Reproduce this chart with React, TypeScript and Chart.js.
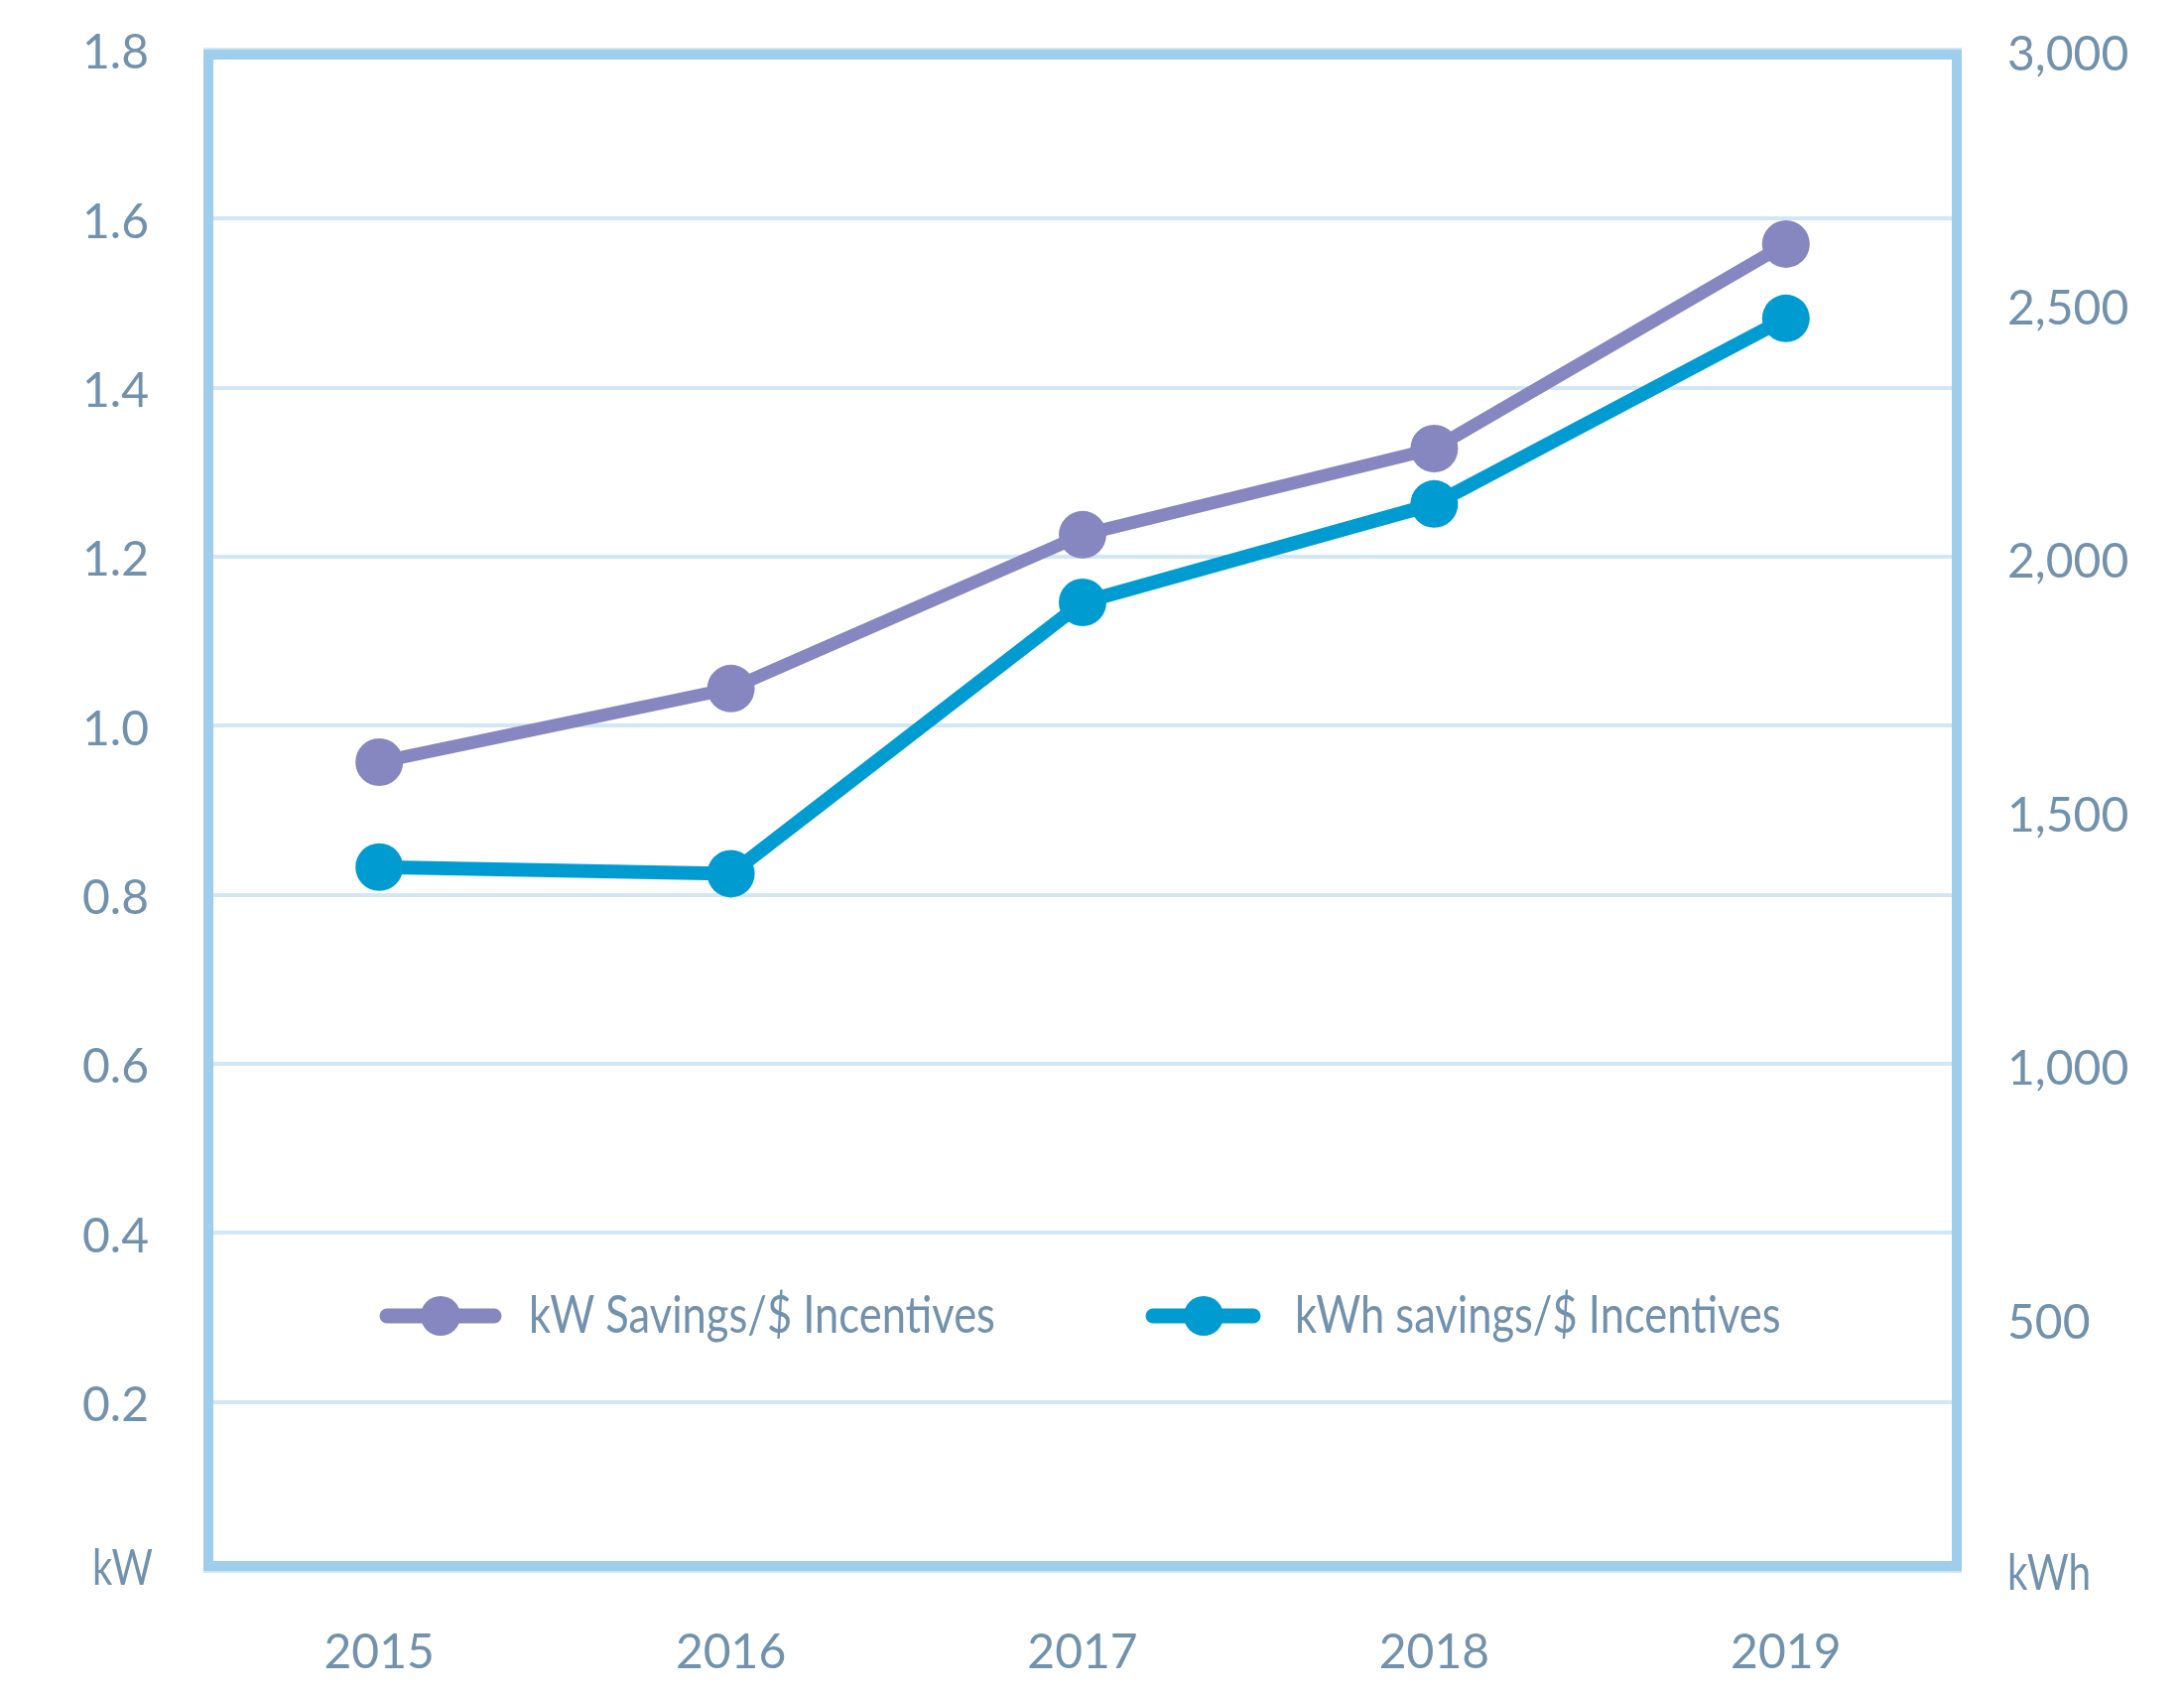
import { useEffect, useRef } from 'react';
import { Chart, registerables } from 'chart.js';

Chart.register(...registerables);

const categories = ['2015', '2016', '2017', '2018', '2019'];
const kwSavings = [0.957, 1.044, 1.226, 1.328, 1.57];
const kwhSavings = [1388, 1375, 1910, 2104, 2470];
const seriesLabels = ['kW Savings/$ Incentives', 'kWh savings/$ Incentives'];
const leftAxisUnit = 'kW';
const rightAxisUnit = 'kWh';

const FONT = "Lato, 'Open Sans', sans-serif";
const TEXT = '#7191AC';
const PURPLE = '#8686C0';
const BLUE = '#009CD1';
const FRAME = '#9ECEEB';
const GRID = '#D2E7F6';

function drawNarrow(ctx: any, text: string, x: number, y: number, align: string, sx: number) {
  ctx.save();
  ctx.translate(x, y);
  ctx.scale(sx, 1);
  ctx.textAlign = align;
  ctx.textBaseline = 'alphabetic';
  ctx.fillText(text, 0, 0);
  ctx.restore();
}

const framePlugin = {
  id: 'frame',
  beforeDatasetsDraw(chart: any) {
    const { ctx, chartArea } = chart;
    ctx.save();
    ctx.strokeStyle = FRAME;
    ctx.lineWidth = 10;
    ctx.strokeRect(chartArea.left + 5, chartArea.top + 5, chartArea.right - chartArea.left - 10, chartArea.bottom - chartArea.top - 10);
    ctx.restore();
  },
  afterDraw(chart: any) {
    const { ctx, chartArea } = chart;
    ctx.save();
    ctx.fillStyle = TEXT;
    ctx.font = `50px ${FONT}`;
    drawNarrow(ctx, leftAxisUnit, chartArea.left - 51, chartArea.bottom + 14, 'right', 0.8);
    drawNarrow(ctx, rightAxisUnit, chartArea.right + 46, chartArea.bottom + 19, 'left', 0.81);
    const items = [
      { x: 383, w: 122, cx: 444, tx: 533 },
      { x: 1155, w: 115, cx: 1213, tx: 1305 },
    ];
    const ly = 1326;
    chart.data.datasets.forEach((ds: any, i: number) => {
      const it = items[i];
      ctx.strokeStyle = ds.borderColor;
      ctx.lineWidth = 15;
      ctx.lineCap = 'round';
      ctx.beginPath();
      ctx.moveTo(it.x + 7, ly);
      ctx.lineTo(it.x + it.w - 7, ly);
      ctx.stroke();
      ctx.fillStyle = ds.borderColor;
      ctx.beginPath();
      ctx.arc(it.cx, ly, 20, 0, Math.PI * 2);
      ctx.fill();
      ctx.fillStyle = TEXT;
      ctx.font = `53px ${FONT}`;
      drawNarrow(ctx, ds.label, it.tx, ly + 17, 'left', 0.82);
    });
    ctx.restore();
  },
};

const zeroPad = (s: any) => {
  s.paddingTop = 0;
  s.paddingBottom = 0;
  s.paddingLeft = 0;
  s.paddingRight = 0;
};

export default function App() {
  const ref = useRef<HTMLCanvasElement | null>(null);
  useEffect(() => {
    document.body.style.margin = '0';
    if (!ref.current) return;
    const tickFont = { size: 48, family: FONT };
    const chart = new Chart(ref.current, {
      type: 'line',
      data: {
        labels: categories,
        datasets: [
          {
            label: seriesLabels[0],
            data: kwSavings,
            yAxisID: 'y',
            borderColor: PURPLE,
            backgroundColor: PURPLE,
            borderWidth: 13,
            pointRadius: 24,
            pointBorderWidth: 0,
            pointBackgroundColor: PURPLE,
            tension: 0,
          },
          {
            label: seriesLabels[1],
            data: kwhSavings,
            yAxisID: 'y2',
            borderColor: BLUE,
            backgroundColor: BLUE,
            borderWidth: 14,
            pointRadius: 24,
            pointBorderWidth: 0,
            pointBackgroundColor: BLUE,
            tension: 0,
          },
        ],
      },
      options: {
        responsive: false,
        animation: false,
        devicePixelRatio: 1,
        layout: { padding: { top: 50, left: 0, right: 0, bottom: 0 } },
        plugins: { legend: { display: false }, tooltip: { enabled: false } },
        scales: {
          x: {
            offset: true,
            grid: { display: false, drawTicks: false },
            border: { display: false },
            ticks: { color: TEXT, font: tickFont, padding: 54 },
            afterFit: (s: any) => { s.height = 125; zeroPad(s); },
          },
          y: {
            position: 'left',
            min: 0,
            max: 1.8,
            grid: { color: GRID, lineWidth: 4, drawTicks: false },
            border: { display: false },
            ticks: {
              stepSize: 0.2,
              color: TEXT,
              font: tickFont,
              padding: 55,
              labelOffset: 4,
              callback: (v: any) => (Math.abs(v) < 1e-9 ? '' : Number(v).toFixed(1)),
            },
            afterFit: (s: any) => { s.width = 205; zeroPad(s); },
          },
          y2: {
            position: 'right',
            min: 0,
            max: 3000,
            grid: { display: false, drawTicks: false },
            border: { display: false },
            ticks: {
              stepSize: 500,
              color: TEXT,
              font: tickFont,
              padding: 46,
              labelOffset: 6,
              callback: (v: any) => (v === 0 ? '' : Number(v).toLocaleString('en-US')),
            },
            afterFit: (s: any) => { s.width = 224; zeroPad(s); },
          },
        },
      },
      plugins: [framePlugin],
    });
    return () => chart.destroy();
  }, []);
  return <canvas ref={ref} width={2201} height={1708} style={{ display: 'block', width: 2201, height: 1708 }} />;
}
